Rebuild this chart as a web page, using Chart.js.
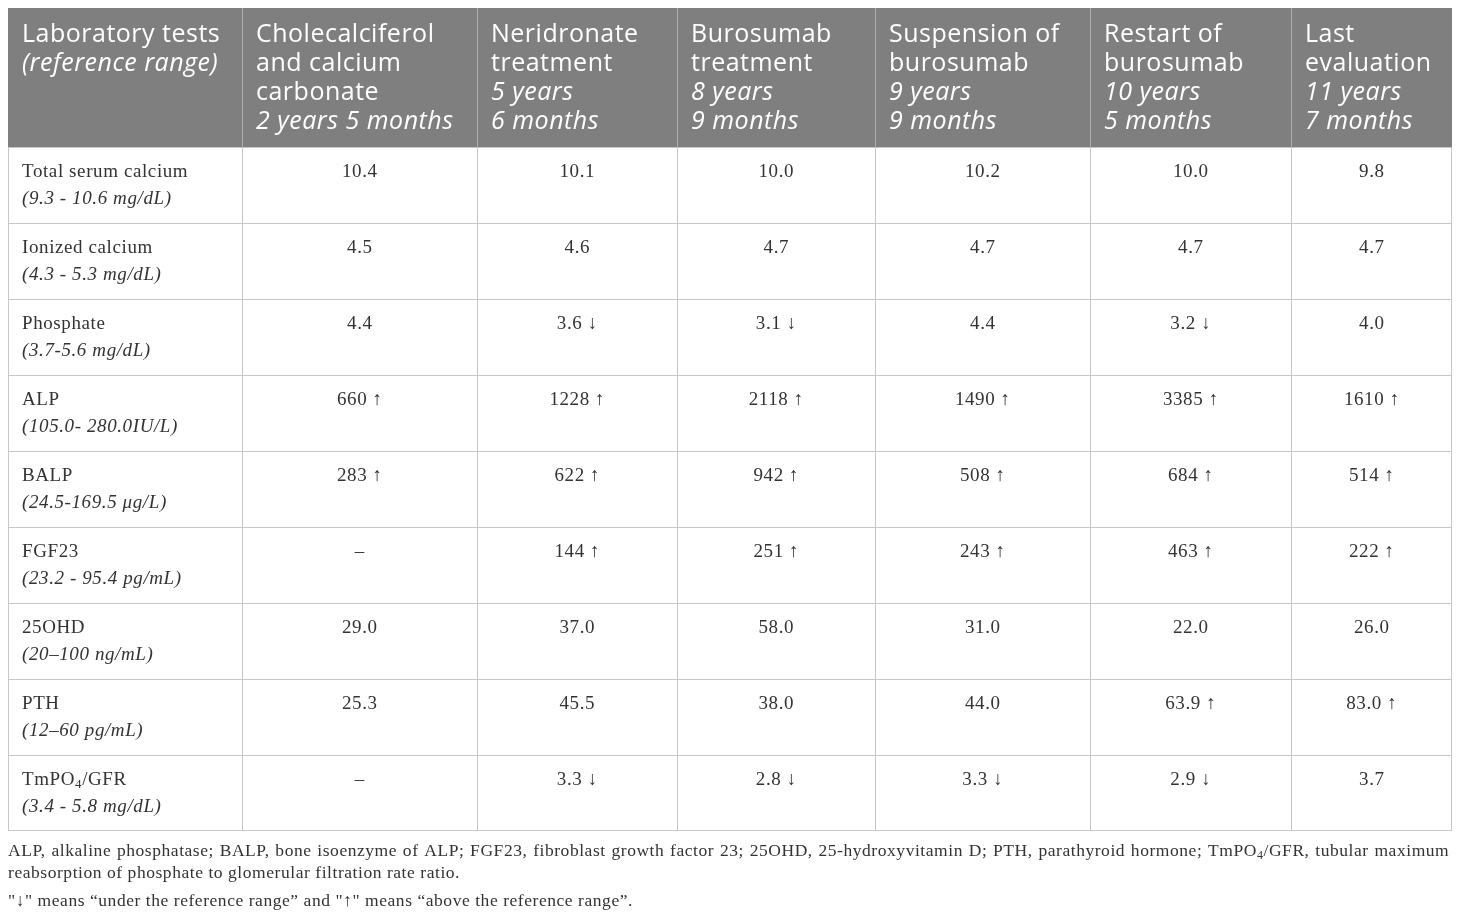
<!DOCTYPE html>
<html><head><meta charset="utf-8">
<script src="https://cdn.jsdelivr.net/npm/chart.js@4.4.1/dist/chart.umd.min.js"></script>
<style>html,body{margin:0;padding:0;background:#fff}#wrap{width:1460px;height:917px;position:relative}canvas{display:block}</style>
</head><body><div id="wrap"><canvas id="c" width="1460" height="917"></canvas></div>
<script>
// ---------- data ----------
const testNames = ["Total serum calcium","Ionized calcium","Phosphate","ALP","BALP","FGF23","25OHD","PTH","TmPO4/GFR"];
const refRanges = ["(9.3 - 10.6 mg/dL)","(4.3 - 5.3 mg/dL)","(3.7-5.6 mg/dL)","(105.0- 280.0IU/L)","(24.5-169.5 μg/L)","(23.2 - 95.4 pg/mL)","(20–100 ng/mL)","(12–60 pg/mL)","(3.4 - 5.8 mg/dL)"];
const firstHeader = ["Laboratory tests"];
const firstHeaderNote = ["(reference range)"];
const phaseTitles = [["Cholecalciferol","and calcium","carbonate"],["Neridronate","treatment"],["Burosumab","treatment"],["Suspension of","burosumab"],["Restart of","burosumab"],["Last","evaluation"]];
const phaseAges = [["2 years 5 months"],["5 years","6 months"],["8 years","9 months"],["9 years","9 months"],["10 years","5 months"],["11 years","7 months"]];
const cholecalciferolVals = ["10.4","4.5","4.4","660 ↑","283 ↑","–","29.0","25.3","–"];
const neridronateVals     = ["10.1","4.6","3.6 ↓","1228 ↑","622 ↑","144 ↑","37.0","45.5","3.3 ↓"];
const burosumabVals       = ["10.0","4.7","3.1 ↓","2118 ↑","942 ↑","251 ↑","58.0","38.0","2.8 ↓"];
const suspensionVals      = ["10.2","4.7","4.4","1490 ↑","508 ↑","243 ↑","31.0","44.0","3.3 ↓"];
const restartVals         = ["10.0","4.7","3.2 ↓","3385 ↑","684 ↑","463 ↑","22.0","63.9 ↑","2.9 ↓"];
const lastVals            = ["9.8","4.7","4.0","1610 ↑","514 ↑","222 ↑","26.0","83.0 ↑","3.7"];
const footnoteLines = [
  "ALP, alkaline phosphatase; BALP, bone isoenzyme of ALP; FGF23, fibroblast growth factor 23; 25OHD, 25-hydroxyvitamin D; PTH, parathyroid hormone; TmPO4/GFR, tubular maximum",
  "reabsorption of phosphate to glomerular filtration rate ratio.",
  "\"↓\" means “under the reference range” and \"↑\" means “above the reference range”."
];
const phaseValues = [cholecalciferolVals, neridronateVals, burosumabVals, suspensionVals, restartVals, lastVals];

// ---------- layout (styles) ----------
const colWidths = [234,235,200,198,215,201,161];
const headerHeight = 139;
const rowHeight = 76;
const totalW = colWidths.reduce((a,b)=>a+b,0);
const totalH = headerHeight + rowHeight*testNames.length;
const colEdges = [0]; colWidths.forEach(w=>colEdges.push(colEdges[colEdges.length-1]+w));
const rowEdges = [0, headerHeight]; testNames.forEach(()=>rowEdges.push(rowEdges[rowEdges.length-1]+rowHeight));

const HEAD_FONT = '"Open Sans"';
const HEAD_SIZE = 25, HEAD_LS = '0.5px';
const BODY_FONT = '"Liberation Serif"';
const BODY_SIZE = 19, BODY_LS = 0.6;
const NOTE_SIZE = 17.5, NOTE_LS = '0.55px';
const TEXT = '#333333';

// anchor points for each cell (value cells)
const cellPoints = [];
phaseValues.forEach((vals, c)=>vals.forEach((v, r)=>{
  cellPoints.push({x:(colEdges[c+1]+colEdges[c+2])/2, y:rowEdges[r+1], label:v});
}));

function drawSubText(ctx, text, x, y, size, italic){
  const f = (italic?'italic ':'')+size+'px '+BODY_FONT;
  const fs = (italic?'italic ':'')+Math.round(size*0.68)+'px '+BODY_FONT;
  const k = text.indexOf('PO4');
  if (k<0){ ctx.font=f; ctx.fillText(text,x,y); return ctx.measureText(text).width; }
  const a = text.substring(0, k+2), b = text.substring(k+3);
  ctx.font=f; ctx.fillText(a,x,y); let cx = x+ctx.measureText(a).width;
  ctx.font=fs; ctx.fillText('4',cx,y+5); cx += ctx.measureText('4').width;
  ctx.font=f; ctx.fillText(b,cx,y); cx += ctx.measureText(b).width;
  return cx-x;
}

const tablePlugin = {
  id:'table',
  beforeDatasetsDraw(chart){
    const ctx = chart.ctx, xs = chart.scales.x, ys = chart.scales.y;
    const X = v=>xs.getPixelForValue(v), Y = v=>ys.getPixelForValue(v);
    ctx.save();
    ctx.fillStyle = '#7f7f7f';
    ctx.fillRect(X(0), Y(0), X(totalW)-X(0), Y(headerHeight)-Y(0));
    ctx.strokeStyle = '#acacac'; ctx.lineWidth = 1;
    for (let i=1;i<colEdges.length-1;i++){
      const px = Math.round(X(colEdges[i]))+0.5;
      ctx.beginPath(); ctx.moveTo(px, Y(0)); ctx.lineTo(px, Y(headerHeight)); ctx.stroke();
    }
    ctx.strokeStyle = '#c6c6c6';
    for (let i=0;i<colEdges.length;i++){
      const px = Math.round(X(colEdges[i]))+0.5 - (i===colEdges.length-1?1:0);
      ctx.beginPath(); ctx.moveTo(px, Y(headerHeight)); ctx.lineTo(px, Y(totalH)); ctx.stroke();
    }
    for (let j=1;j<rowEdges.length;j++){
      const py = Math.round(Y(rowEdges[j]))+0.5 - (j===rowEdges.length-1?1:0);
      ctx.beginPath(); ctx.moveTo(X(0), py); ctx.lineTo(X(totalW), py); ctx.stroke();
    }
    // header text
    ctx.fillStyle = '#ffffff'; ctx.textBaseline = 'middle'; ctx.textAlign='left';
    ctx.letterSpacing = HEAD_LS;
    const hx0 = 14, hy0 = 27, hls = 29;
    const lines = firstHeader.map(t=>[t,false]).concat(firstHeaderNote.map(t=>[t,true]));
    lines.forEach((l,i)=>{ ctx.font=(l[1]?'italic ':'')+HEAD_SIZE+'px '+HEAD_FONT; ctx.fillText(l[0], X(colEdges[0]+hx0), Y(hy0+i*hls)); });
    phaseTitles.forEach((tl,c)=>{
      const ls = tl.map(t=>[t,false]).concat(phaseAges[c].map(t=>[t,true]));
      ls.forEach((l,i)=>{ ctx.font=(l[1]?'italic ':'')+HEAD_SIZE+'px '+HEAD_FONT; ctx.fillText(l[0], X(colEdges[c+1]+hx0), Y(hy0+i*hls)); });
    });
    // row labels
    ctx.fillStyle = TEXT; ctx.letterSpacing = BODY_LS+'px';
    testNames.forEach((t,r)=>{
      drawSubText(ctx, t, X(colEdges[0]+hx0), Y(rowEdges[r+1]+25), BODY_SIZE, false);
      drawSubText(ctx, refRanges[r], X(colEdges[0]+hx0), Y(rowEdges[r+1]+52), BODY_SIZE, true);
    });
    ctx.letterSpacing = '0px';
    ctx.restore();
  },
  afterDatasetsDraw(chart){
    const ctx = chart.ctx, xs = chart.scales.x, ys = chart.scales.y;
    const meta = chart.getDatasetMeta(0);
    ctx.save();
    ctx.fillStyle = TEXT; ctx.textAlign='left'; ctx.textBaseline='middle';
    ctx.font = BODY_SIZE+'px '+BODY_FONT; ctx.letterSpacing = BODY_LS+'px';
    meta.data.forEach((el,i)=>{
      const p = chart.data.datasets[0].data[i];
      const w = ctx.measureText(p.label).width - BODY_LS;
      ctx.fillText(p.label, el.x - w/2, el.y + 25);
    });
    // footnote
    const left = xs.getPixelForValue(0), right = xs.getPixelForValue(totalW);
    const base = ys.getPixelForValue(totalH);
    ctx.font=NOTE_SIZE+'px '+BODY_FONT; ctx.letterSpacing = NOTE_LS;
    const offs = [20, 42, 70];
    footnoteLines.forEach((line,i)=>{
      const y = base + offs[i];
      if (i===0){
        const words = line.split(' ');
        let wsum = 0; words.forEach(w=>{ ctx.font=NOTE_SIZE+'px '+BODY_FONT; wsum+=ctx.measureText(w).width; });
        const gap = Math.max(3, (right-left-wsum)/(words.length-1));
        let cx = left;
        words.forEach(w=>{
          const ww = drawSubText(ctx,w,cx,y,NOTE_SIZE,false);
          cx += ww + gap;
        });
      } else { ctx.font=NOTE_SIZE+'px '+BODY_FONT; ctx.fillText(line, left, y); }
    });
    ctx.letterSpacing = '0px';
    ctx.restore();
  }
};

new Chart(document.getElementById('c'), {
  type:'scatter',
  data:{datasets:[{data:cellPoints, pointRadius:0, showLine:false}]},
  options:{
    responsive:false, animation:false, events:[],
    layout:{padding:{left:8,right:8,top:8,bottom:86}},
    plugins:{legend:{display:false}, tooltip:{enabled:false}},
    scales:{
      x:{type:'linear', min:0, max:totalW, display:false},
      y:{type:'linear', min:0, max:totalH, reverse:true, display:false}
    }
  },
  plugins:[tablePlugin]
});
</script>
</body></html>
